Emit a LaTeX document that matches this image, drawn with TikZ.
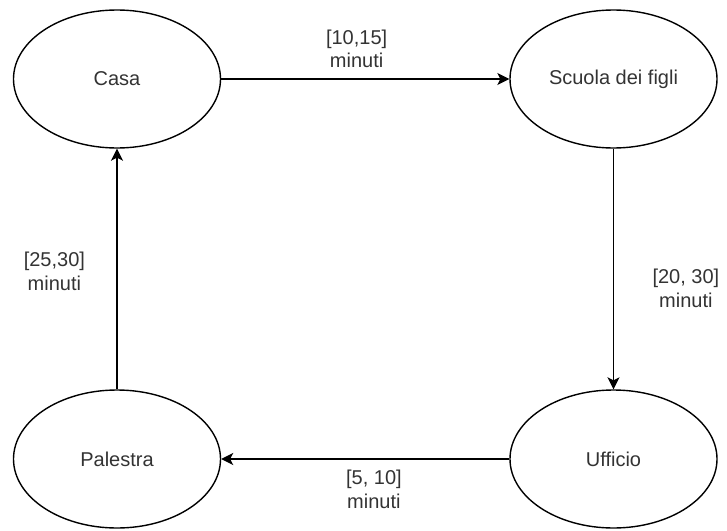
\documentclass[tikz,border=0pt]{standalone}
\usepackage{fontspec}
\setsansfont{Liberation Sans}
\usetikzlibrary{arrows.meta,shapes.geometric}
\definecolor{labelgray}{RGB}{51,51,51}

\begin{document}
\begin{tikzpicture}
[-,>={Stealth[length=12pt,width=12pt,inset=3pt]},auto,node distance=380pt,x=1pt,y=1pt,
                    line width=1.4pt,main node/.style={ellipse,draw,minimum width=207pt,minimum height=138pt,inner sep=0pt,font=\sffamily\fontsize{20}{23.5}\selectfont,text=labelgray}]

  \useasboundingbox (-117,79) rectangle (610,-451);

  \node[main node] (casa) {Casa};
  \node[main node] (scuola) [node distance=496.5pt,right of=casa] {Scuola dei figli};
  \node[main node] (ufficio) [below of=scuola] {Ufficio};
  \node[main node] (palestra) [below of=casa] {Palestra};

  \path[->,every node/.style={font=\sffamily\fontsize{20}{23.5}\selectfont,text=labelgray,align=center}]
    (casa) edge node [above=7pt,pos=0.47] {[10,15]\\minuti} (scuola)
    (scuola) edge node [right=35pt,pos=0.58] {[20, 30]\\minuti} (ufficio)
    (ufficio) edge node [below=7pt,pos=0.47] {[5, 10]\\minuti} (palestra)
    (palestra) edge node [left=28pt,pos=0.49] {[25,30]\\minuti} (casa);
\end{tikzpicture}
\end{document}
